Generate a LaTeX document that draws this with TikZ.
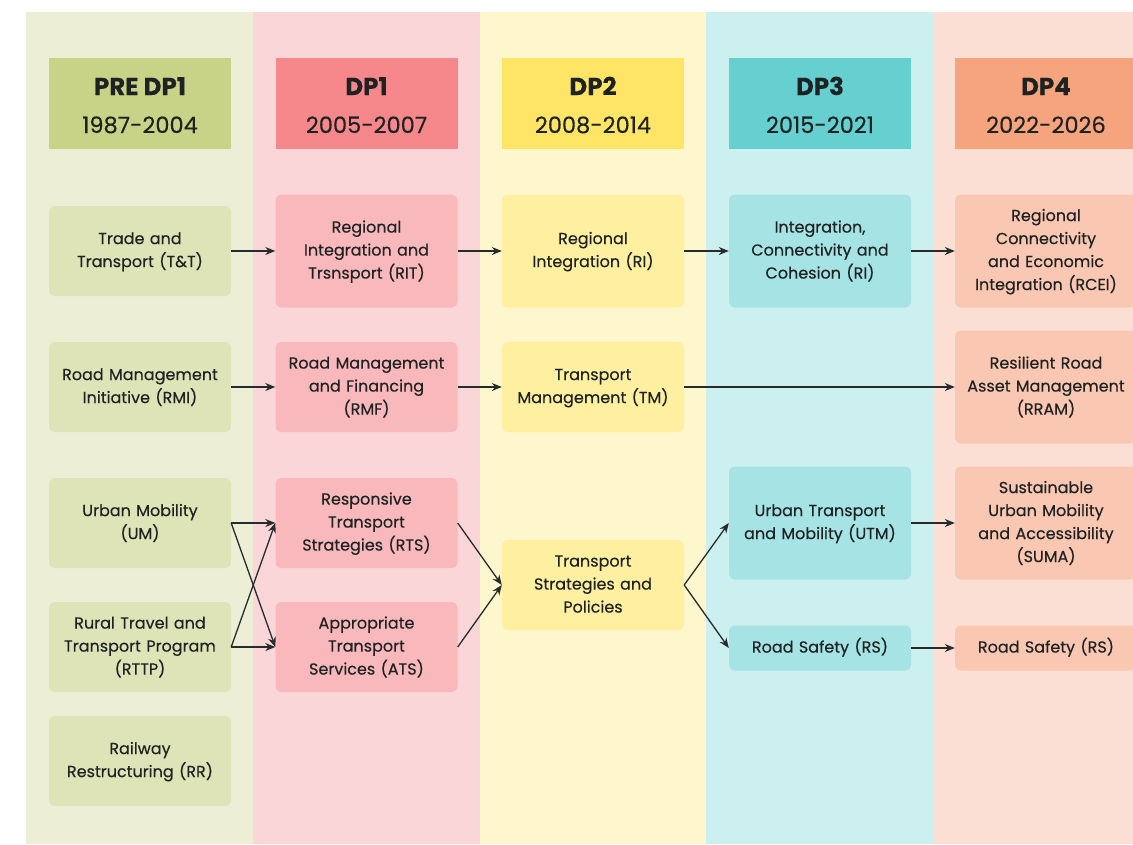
\documentclass[tikz,border=0pt]{standalone}
\usepackage{xcolor}
\usepackage{fontspec}
\setmainfont{Poppins}[FakeBold=0.3]
\usetikzlibrary{arrows.meta}
\tikzset{>={Stealth[length=10pt,width=8pt]}}

\definecolor{txt}{HTML}{1E2222}
\definecolor{lnk}{HTML}{262B2B}
% column backgrounds, headers and boxes
\definecolor{bgA}{HTML}{EDEED6}\definecolor{hdA}{HTML}{C8D388}\definecolor{bxA}{HTML}{DFE4B8}
\definecolor{bgB}{HTML}{FAD6D9}\definecolor{hdB}{HTML}{F6878A}\definecolor{bxB}{HTML}{F9B8BC}
\definecolor{bgC}{HTML}{FEF6CC}\definecolor{hdC}{HTML}{FEE566}\definecolor{bxC}{HTML}{FEF0A0}
\definecolor{bgD}{HTML}{CCEFEF}\definecolor{hdD}{HTML}{66CFCF}\definecolor{bxD}{HTML}{A6E3E4}
\definecolor{bgE}{HTML}{FCDFD4}\definecolor{hdE}{HTML}{F6A47E}\definecolor{bxE}{HTML}{F9C7B2}

\begin{document}
\begin{tikzpicture}[x=1pt,y=-1pt,
    head/.style={minimum width=182pt, minimum height=91pt, inner sep=0pt, align=center,
      text=txt, font=\fontsize{22.5}{38}\selectfont, text height=59pt, text depth=0pt},
    box/.style={rounded corners=6pt, minimum width=182pt, minimum height=90pt, text width=178pt,
      inner sep=0pt, align=center, text=txt, font=\fontsize{16}{23}\selectfont,
      execute at begin node={\strut}, execute at end node={\strut}},
    tall/.style={box, minimum height=113pt},
    thin/.style={box, minimum height=45pt},
    link/.style={->, draw=lnk, line width=1.3pt}]

  \useasboundingbox (0,0) rectangle (1133,844);
  \clip (0,0) rectangle (1133,844);

  % Column backgrounds
  \foreach \i/\c in {0/bgA, 1/bgB, 2/bgC, 3/bgD, 4/bgE} {
    \fill[\c] (26+\i*226.75, 12) rectangle ++(226.75, 832);
  }

  % Headers
  \node[head, fill=hdA] (h0) at (140, 103.5) {{\fontsize{24.5}{38}\selectfont\textbf{PRE DP1}}\\1987-2004};
  \node[head, fill=hdB] (h1) at (366.5, 103.5) {{\fontsize{24.5}{38}\selectfont\textbf{DP1}}\\2005-2007};
  \node[head, fill=hdC] (h2) at (593, 103.5) {{\fontsize{24.5}{38}\selectfont\textbf{DP2}}\\2008-2014};
  \node[head, fill=hdD] (h3) at (820, 103.5) {{\fontsize{24.5}{38}\selectfont\textbf{DP3}}\\2015-2021};
  \node[head, fill=hdE] (h4) at (1046, 103.5) {{\fontsize{24.5}{38}\selectfont\textbf{DP4}}\\2022-2026};

  % PRE DP1
  \node[box, fill=bxA] (tt) at (140, 251) {Trade and\\Transport (T\&T)};
  \node[box, fill=bxA] (rmi) at (140, 387) {Road Management\\Initiative (RMI)};
  \node[box, fill=bxA] (um) at (140, 523) {Urban Mobility\\(UM)};
  \node[box, fill=bxA] (rttp) at (140, 647) {Rural Travel and\\Transport Program\\(RTTP)};
  \node[box, fill=bxA] (rr) at (140, 761) {Railway\\Restructuring (RR)};

  % DP1
  \node[tall, fill=bxB] (rit) at (366.5, 251) {Regional\\Integration and\\Trsnsport (RIT)};
  \node[box, fill=bxB] (rmf) at (366.5, 387) {Road Management\\and Financing\\(RMF)};
  \node[box, fill=bxB] (rts) at (366.5, 523) {Responsive\\Transport\\Strategies (RTS)};
  \node[box, fill=bxB] (ats) at (366.5, 647) {Appropriate\\Transport\\Services (ATS)};

  % DP2
  \node[tall, fill=bxC] (ri) at (593, 251) {Regional\\Integration (RI)};
  \node[box, fill=bxC] (tm) at (593, 387) {Transport\\Management (TM)};
  \node[box, fill=bxC] (tsp) at (593, 585) {Transport\\Strategies and\\Policies};

  % DP3
  \node[tall, fill=bxD] (icc) at (820, 251) {Integration,\\Connectivity and\\Cohesion (RI)};
  \node[tall, fill=bxD] (utm) at (820, 523) {Urban Transport\\and Mobility (UTM)};
  \node[thin, fill=bxD] (rs3) at (820, 648) {Road Safety (RS)};

  % DP4
  \node[tall, fill=bxE] (rcei) at (1046, 251) {Regional\\Connectivity\\and Economic\\Integration (RCEI)};
  \node[tall, fill=bxE] (rram) at (1046, 387) {Resilient Road\\Asset Management\\(RRAM)};
  \node[tall, fill=bxE] (suma) at (1046, 523) {Sustainable\\Urban Mobility\\and Accessibility\\(SUMA)};
  \node[thin, fill=bxE] (rs4) at (1046, 648) {Road Safety (RS)};

  % Links
  \foreach \a/\b in {tt/rit, rit/ri, ri/icc, icc/rcei, rmi/rmf, rmf/tm, tm/rram,
      um/rts, um/ats, rttp/rts, rttp/ats, rts/tsp, ats/tsp, tsp/utm, tsp/rs3,
      utm/suma, rs3/rs4} {
    \draw[link] (\a.east) -- (\b.west);
  }

\end{tikzpicture}
\end{document}
